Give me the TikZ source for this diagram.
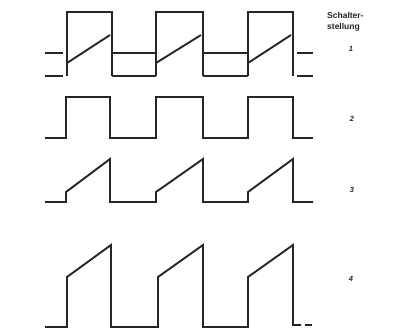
\documentclass[tikz,border=0pt]{standalone}
\usepackage{fontspec}
\setmainfont{Liberation Sans}
\begin{document}
\begin{tikzpicture}[x=1pt,y=-1pt,
  wave/.style={line width=1.9pt,line join=miter,black!85},
  lbl/.style={font=\fontsize{8.5}{9}\selectfont\bfseries,inner sep=0pt,black!85},
  num/.style={font=\fontsize{7.5}{8}\selectfont\bfseries\itshape,inner sep=0pt,black!85}]
\useasboundingbox (0,0) rectangle (402,332);
% Waveform 1
\draw[wave] (45,53) -- (63,53);
\draw[wave] (45,76) -- (63,76);
\foreach \a/\b in {67/112,156/203,248/293}{
  \draw[wave] (\a,76) -- (\a,12) -- (\b,12) -- (\b,76);
  \draw[wave] (\a,63) -- (\b-2,35);
}
\draw[wave] (112,53) -- (156,53);
\draw[wave] (112,76) -- (156,76);
\draw[wave] (203,53) -- (248,53);
\draw[wave] (203,76) -- (248,76);
\draw[wave] (297,53) -- (313,53);
\draw[wave] (297,76) -- (313,76);
% Waveform 2
\draw[wave] (45,138) -- (66,138) -- (66,97) -- (110,97) -- (110,138) -- (156,138)
  -- (156,97) -- (203,97) -- (203,138) -- (248,138) -- (248,97) -- (293,97)
  -- (293,138) -- (313,138);
% Waveform 3
\draw[wave] (45,202) -- (66,202) -- (66,192) -- (110,159) -- (110,202) -- (156,202)
  -- (156,192) -- (203,159) -- (203,202) -- (248,202) -- (248,192) -- (293,159)
  -- (293,202) -- (313,202);
% Waveform 4
\draw[wave] (45,327) -- (67,327) -- (67,277) -- (111,245) -- (111,327) -- (158,327)
  -- (158,277) -- (203,245) -- (203,327) -- (248,327) -- (248,277) -- (293,245)
  -- (293,325) -- (301,325);
\draw[wave] (305,325) -- (312,325);
% Labels
\node[lbl,anchor=west] (s1) at (327,15) {Schalter-};
\node[lbl,anchor=west] (s2) at (327,27) {stellung};
\node[num] (n1) at (351,49) {1};
\node[num] (n2) at (352,119) {2};
\node[num] (n3) at (352,190) {3};
\node[num] (n4) at (351,279) {4};
\end{tikzpicture}
\end{document}
